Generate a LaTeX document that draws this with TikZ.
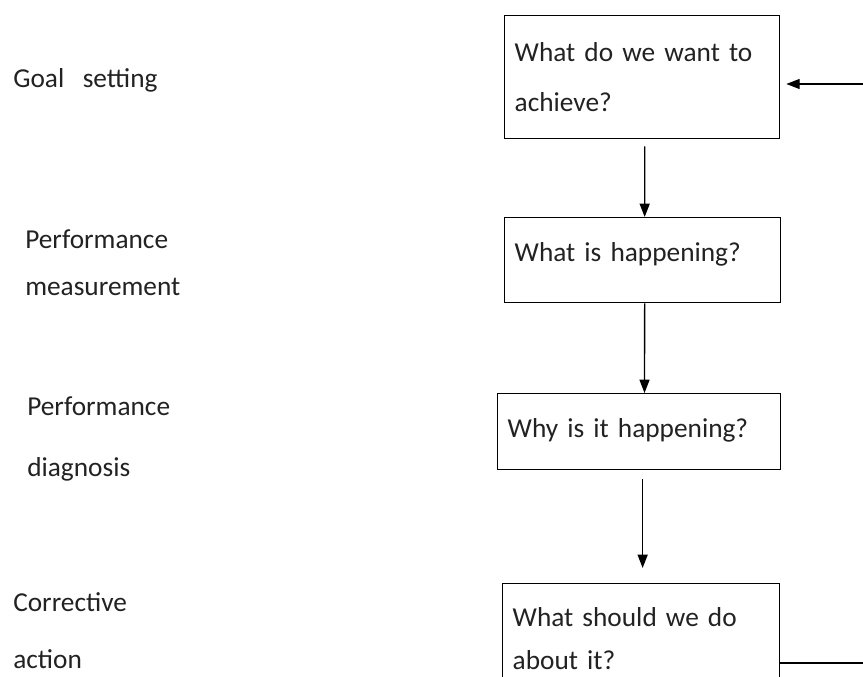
\documentclass[tikz,border=0pt]{standalone}
\usepackage{fontspec}
\setmainfont{Carlito}
\usepackage{tikz}
\usetikzlibrary{arrows.meta,positioning}
\usepackage{xcolor}
\definecolor{ink}{HTML}{222222}

\begin{document}
\begin{tikzpicture}[x=0.75pt,y=-0.75pt,>={Triangle[width=7.5pt,length=10pt]},
  font=\fontsize{20.5}{25}\selectfont,
  qbox/.style={draw,line width=1pt,anchor=north west,align=left,inner xsep=7.5pt,inner ysep=0pt,text=ink},
  lbl/.style={anchor=north west,align=left,inner sep=0pt,text=ink},
  flow/.style={->,line width=1pt}]
  \useasboundingbox (0,0) rectangle (863,677);
  \node[qbox,text width=191.25pt,minimum height=92.25pt] (q1) at (504,15) {What do we want to\\[12.5pt]achieve?};
  \node[qbox,text width=192pt,minimum height=63.75pt,text height=15.75pt,text depth=13.5pt] (q2) at (504,217) {What is happening?};
  \node[qbox,text width=197.25pt,minimum height=57pt,text height=15.75pt,text depth=6.75pt] (q3) at (497,393) {Why is it happening?};
  \node[qbox,text width=192.75pt,inner ysep=18pt] (q4) at (502,583) {What should we do\\[7pt]about it?};
  \node[lbl] (goal) at (13,68) {Goal\ \ \ setting};
  \node[lbl] (meas) at (25,229) {Performance\\[10.25pt]measurement};
  \node[lbl] (diag) at (27,396) {Performance\\[20.75pt]diagnosis};
  \node[lbl] (corr) at (13,592) {Corrective\\[18pt]action};
  \coordinate (back) at (863,84);
  \coordinate (out) at (863,663);
  \draw[flow,shorten <=5.25pt] ([xshift=1.9pt]q1.south) -- ([xshift=1.5pt]q2.north);
  \draw[flow] ([xshift=1.5pt]q2.south) -- ([xshift=4pt]q3.north);
  \draw[flow,shorten <=6.75pt,shorten >=11.25pt] ([xshift=2.6pt]q3.south) -- ([xshift=1.1pt]q4.north);
  \draw[flow,shorten >=4.5pt] (back) -- (q1.east |- back);
  \draw[line width=1pt] (q4.east |- out) -- (out);
\end{tikzpicture}
\end{document}
